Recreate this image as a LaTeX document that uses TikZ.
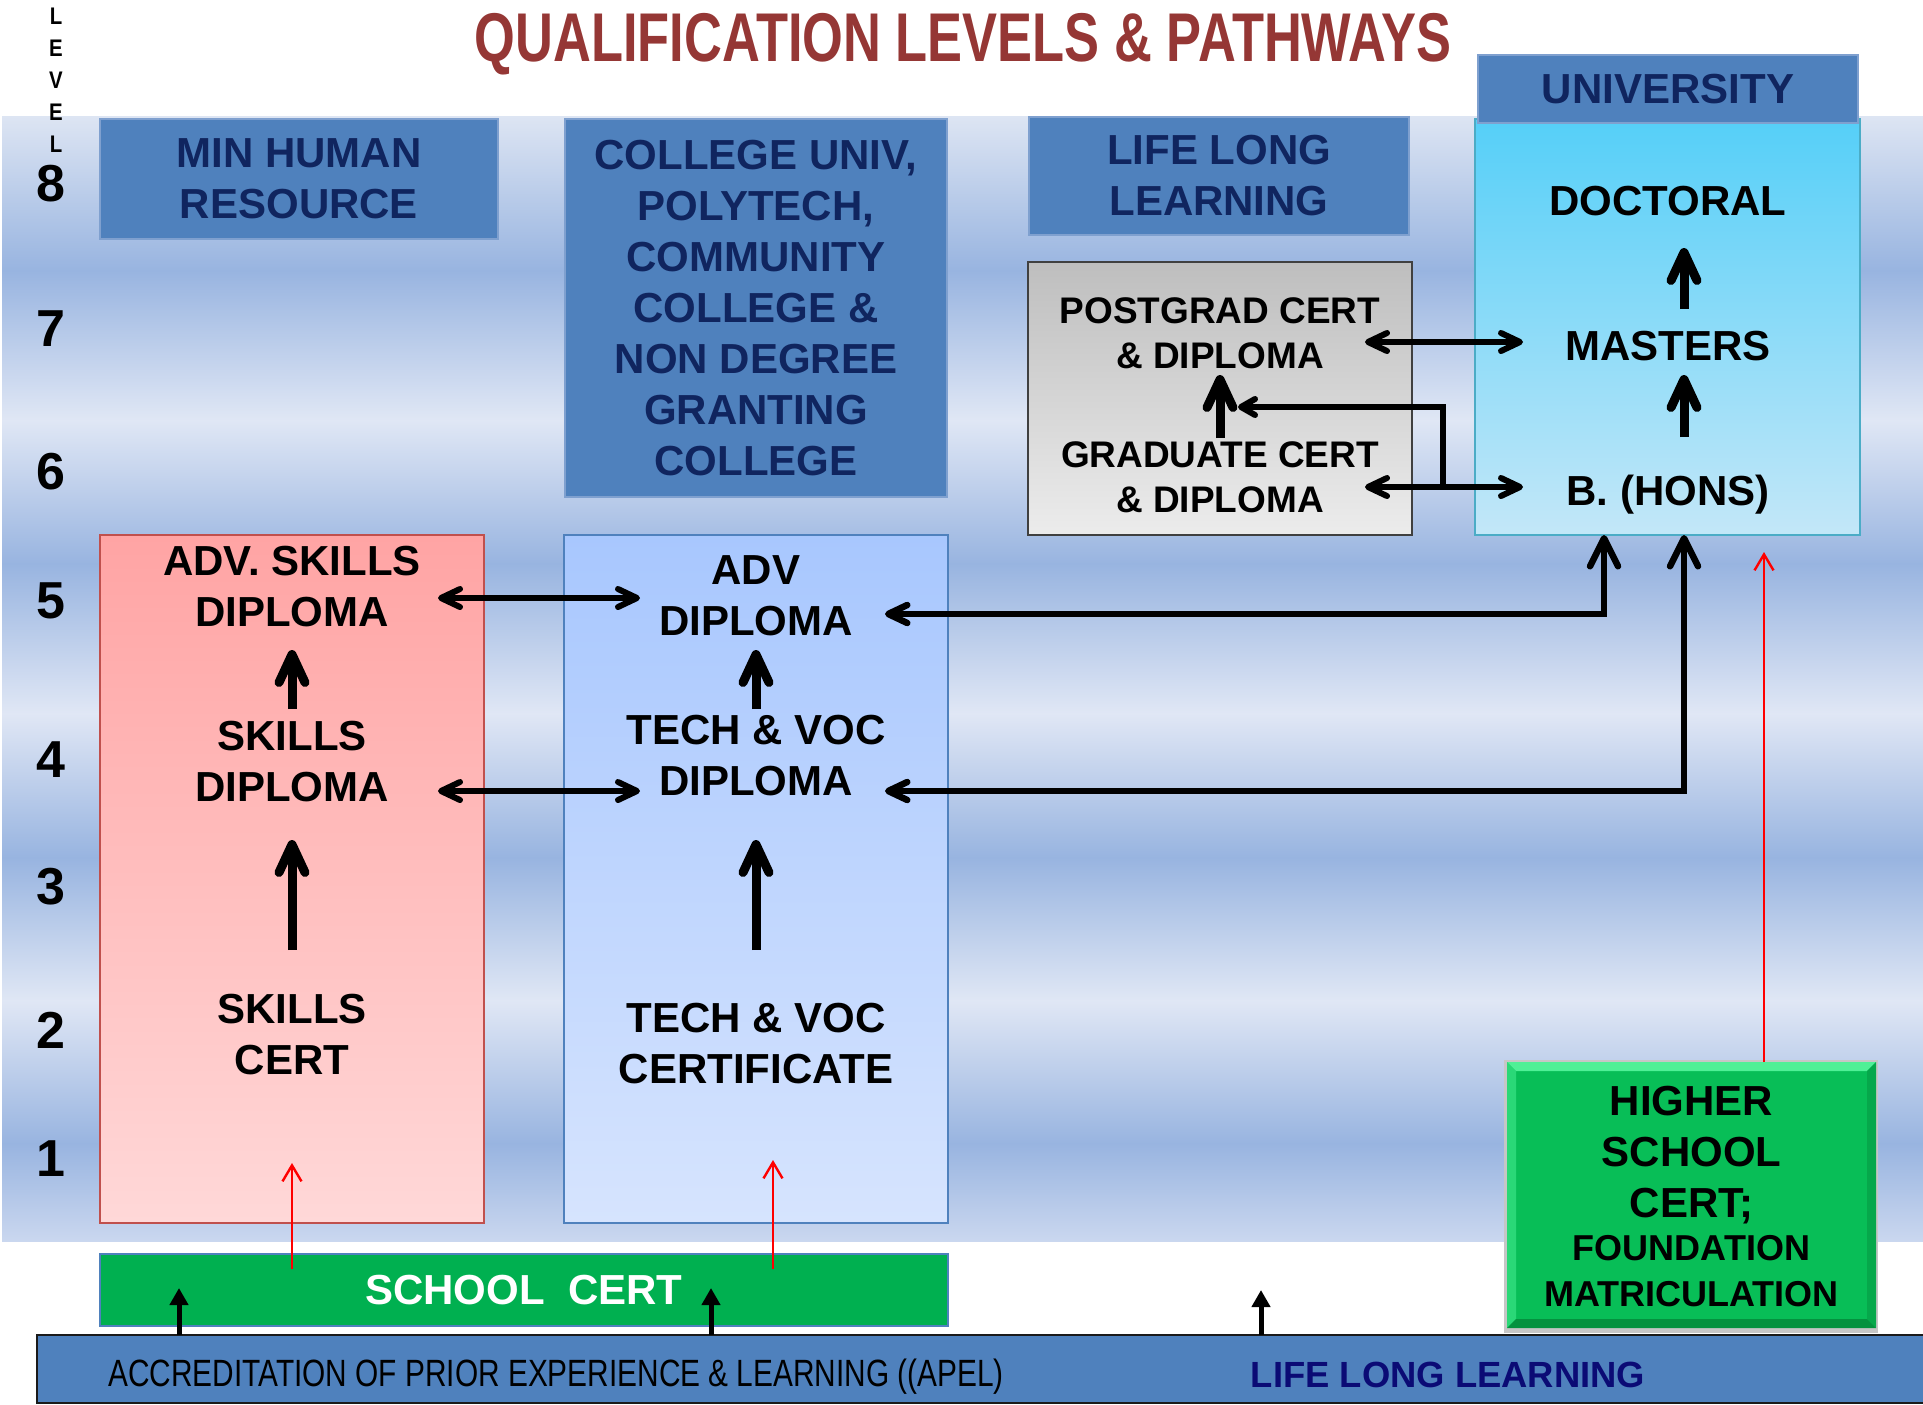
\documentclass[tikz,border=0pt]{standalone}
\usepackage{fontspec}
\setmainfont{Liberation Sans}
\newfontfamily\titlefont[FakeStretch=0.76]{Liberation Sans}
\newfontfamily\narrowfont[FakeStretch=0.785]{Liberation Sans}
\newfontfamily\levelfont[FakeStretch=0.85]{Liberation Sans}
\usetikzlibrary{arrows.meta,calc}
\definecolor{bgT}{HTML}{DDE5F3}
\definecolor{bgL}{HTML}{E0E7F5}
\definecolor{bgD}{HTML}{98B4E0}
\definecolor{bgE}{HTML}{CAD7EF}
\definecolor{hdrfill}{HTML}{4F81BD}
\definecolor{hdrEdge}{HTML}{7FA0CF}
\definecolor{hdrtext}{HTML}{10255F}
\definecolor{titlered}{HTML}{953735}
\definecolor{pinkA}{HTML}{FFA4A4}
\definecolor{pinkB}{HTML}{FFACAC}
\definecolor{pinkC}{HTML}{FFD8D8}
\definecolor{pinkEdge}{HTML}{C0504D}
\definecolor{tvA}{HTML}{A8C7FE}
\definecolor{tvB}{HTML}{B9D0FC}
\definecolor{tvC}{HTML}{D6E4FE}
\definecolor{tvEdge}{HTML}{4F81BD}
\definecolor{uniA}{HTML}{55CFF8}
\definecolor{uniC}{HTML}{C3E7F8}
\definecolor{uniEdge}{HTML}{4BACC6}
\definecolor{greyA}{HTML}{BEBEBE}
\definecolor{greyC}{HTML}{ECECEC}
\definecolor{greyEdge}{HTML}{404040}
\definecolor{schoolgreen}{HTML}{00B050}
\definecolor{hscgreen}{HTML}{08BE57}
\definecolor{hscLight}{HTML}{4FF096}
\definecolor{hscSide}{HTML}{2AD877}
\definecolor{hscDark}{HTML}{04923F}
\definecolor{hscRight}{HTML}{06A84B}
\definecolor{llnavy}{HTML}{0B0B75}
\definecolor{apelEdge}{HTML}{1A1A1A}

\tikzset{
  x=0.5pt, y=-0.5pt,
  panel/.style={inner sep=0pt, outer sep=0pt},
  hdrbox/.style={panel, draw=hdrEdge, line width=0.6pt, fill=hdrfill, text=hdrtext,
    font=\fontsize{21}{25.5}\selectfont\bfseries, align=center},
  lbl/.style={font=\fontsize{21}{25.5}\selectfont\bfseries, align=center, inner sep=0pt, text=black},
  slbl/.style={font=\fontsize{18.5}{22.5}\selectfont\bfseries, align=center, inner sep=0pt, text=black},
  levelnum/.style={font=\fontsize{26}{30}\selectfont\bfseries, inner sep=0pt},
  uparr/.style={line width=4.5pt, -{Straight Barb[length=14pt,width=13pt,round]}},
  dblarr/.style={line width=3pt, {Straight Barb[length=9.5pt,width=9pt,round]}-{Straight Barb[length=9.5pt,width=9pt,round]}},
  brarr/.style={line width=3pt, -{Straight Barb[length=7pt,width=8pt,round]}},
  longarr/.style={line width=3.25pt, {Straight Barb[length=9.5pt,width=9pt,round]}-{Straight Barb[length=14pt,width=14pt,round]}},
  redarr/.style={draw=red, line width=1.2pt, -{Straight Barb[length=8pt,width=9.5pt]}},
  apelarr/.style={line width=2.5pt, -{Triangle[length=8.5pt,width=9pt]}},
}

\begin{document}
\begin{tikzpicture}
\useasboundingbox (0,0) rectangle (1923,1404);

% background stripes
\foreach \ya/\yb/\ca/\cb in {116/270/bgT/bgD, 270/420/bgD/bgL, 420/563/bgL/bgD, 563/713/bgD/bgL,
  713/857/bgL/bgD, 857/1000/bgD/bgL, 1000/1143/bgL/bgD, 1143/1240/bgD/bgE}
  \shade[top color=\ca, bottom color=\cb] (2,\ya) rectangle (1923,\yb+1);

% title and level column
\node[font={\titlefont\bfseries\fontsize{34.5}{40}\selectfont}, text=titlered, anchor=base, inner sep=0pt]
  (title) at (963,61) {QUALIFICATION LEVELS \& PATHWAYS};
\node[font={\levelfont\bfseries\fontsize{12}{16}\selectfont}, align=center, inner sep=0pt]
  (levelword) at (56,80) {L\\E\\V\\E\\L};
\foreach \d/\yy in {8/184, 7/329, 6/472, 5/601, 4/760, 3/887, 2/1030, 1/1159}
  \node[levelnum] (lv\d) at (51,\yy) {\d};

% header boxes
\node[hdrbox, minimum width=199pt, minimum height=60pt] (mhr) at (299,179) {MIN HUMAN\\RESOURCE};
\node[hdrbox, minimum width=191pt, minimum height=189pt] (college) at (756,308)
  {COLLEGE UNIV,\\POLYTECH,\\COMMUNITY\\COLLEGE \&\\NON DEGREE\\GRANTING\\COLLEGE};
\node[hdrbox, minimum width=190pt, minimum height=59pt] (lll) at (1219,176) {LIFE LONG\\LEARNING};

% university
\node[panel, shade, top color=uniA, bottom color=uniC, draw=uniEdge, line width=1pt,
  minimum width=192.5pt, minimum height=208pt] (ub) at (1667.5,327) {};
\node[hdrbox, minimum width=190pt, minimum height=34pt] (uh) at (1668,89) {UNIVERSITY};

% grey box
\node[panel, shade, top color=greyA, bottom color=greyC, draw=greyEdge, line width=1.2pt,
  minimum width=192pt, minimum height=136.5pt] (gb) at (1220,398.5) {};

% skills and tech-voc columns
\node[panel, shade, top color=pinkA, middle color=pinkB, bottom color=pinkC, draw=pinkEdge, line width=0.8pt,
  minimum width=192pt, minimum height=344pt] (sk) at (292,879) {};
\node[panel, shade, top color=tvA, middle color=tvB, bottom color=tvC, draw=tvEdge, line width=0.8pt,
  minimum width=192pt, minimum height=344pt] (tv) at (756,879) {};

% school cert bar
\node[panel, fill=schoolgreen, draw=tvEdge, line width=0.8pt, minimum width=424pt, minimum height=36pt,
  text=white, font=\fontsize{21}{25.5}\selectfont\bfseries] (sc) at (524,1290) {SCHOOL\ \ CERT};

% higher school cert box
\fill[gray!45] (1504,1060) rectangle (1878,1333);
\node[panel, fill=hscgreen, minimum width=184.5pt, minimum height=133pt] (hsc) at (1691.5,1195) {};
\fill[hscLight] (hsc.north west) -- (hsc.north east) -- ($(hsc.north east)+(-9,9)$) -- ($(hsc.north west)+(9,9)$) -- cycle;
\fill[hscSide] (hsc.north west) -- ($(hsc.north west)+(9,9)$) -- ($(hsc.south west)+(9,-9)$) -- (hsc.south west) -- cycle;
\fill[hscRight] (hsc.north east) -- ($(hsc.north east)+(-9,9)$) -- ($(hsc.south east)+(-9,-9)$) -- (hsc.south east) -- cycle;
\fill[hscDark] (hsc.south west) -- ($(hsc.south west)+(9,-9)$) -- ($(hsc.south east)+(-9,-9)$) -- (hsc.south east) -- cycle;
\node[lbl] (hsctop) at (1691.5,1155) {HIGHER\\SCHOOL\\CERT;};
\node[font=\fontsize{18}{22.75}\selectfont\bfseries, align=center, inner sep=0pt] (hscbot) at (1691.5,1271)
  {FOUNDATION\\MATRICULATION};

% APEL bar
\node[panel, fill=hdrfill, draw=apelEdge, line width=1pt, minimum width=944pt, minimum height=34pt] (apel) at (981,1369) {};
\node[font={\narrowfont\fontsize{19}{22}\selectfont}, anchor=base, inner sep=0pt] (apeltxt) at (556,1386)
  {ACCREDITATION OF PRIOR EXPERIENCE \& LEARNING ((APEL)};
\node[font=\fontsize{18.2}{22}\selectfont\bfseries, text=llnavy, anchor=base, inner sep=0pt] (lltxt) at (1448,1387)
  {LIFE LONG LEARNING};

% texts
\node[lbl] (doctoral) at (1668,201) {DOCTORAL};
\node[lbl] (masters) at (1668,346) {MASTERS};
\node[lbl] (bhons) at (1668,495) {B. (HONS)};
\node[slbl] (pg) at (1220,333) {POSTGRAD CERT\\\& DIPLOMA};
\node[slbl] (gc) at (1220,477) {GRADUATE CERT\\\& DIPLOMA};
\node[lbl] (advskills) at (292,587) {ADV. SKILLS\\DIPLOMA};
\node[lbl] (skillsdip) at (292,762) {SKILLS\\DIPLOMA};
\node[lbl] (skillscert) at (292,1035) {SKILLS\\CERT};
\node[lbl] (advdip) at (756,596) {ADV\\DIPLOMA};
\node[lbl] (tvdip) at (756,756) {TECH \& VOC\\DIPLOMA};
\node[lbl] (tvcert) at (756,1044) {TECH \& VOC\\CERTIFICATE};

% vertical progression arrows
\draw[uparr] ($(skillsdip)+(0,-53)$) -- ($(advskills)+(0,63)$);
\draw[uparr] ($(skillscert)+(0,-85)$) -- ($(skillsdip)+(0,78)$);
\draw[uparr] ($(tvdip)+(0,-47)$) -- ($(advdip)+(0,54)$);
\draw[uparr] ($(tvcert)+(0,-94)$) -- ($(tvdip)+(0,84)$);
\draw[uparr] ($(masters)+(16,-37)$) -- ($(doctoral)+(16,47)$);
\draw[uparr] ($(bhons)+(16,-58)$) -- ($(masters)+(16,29)$);
\draw[uparr] ($(gc)+(0,-39)$) -- ($(pg)+(0,42)$);

% horizontal two-way arrows
\draw[dblarr] ($(advskills)+(146,11)$) -- ($(advdip)+(-116,2)$);
\draw[dblarr] ($(skillsdip)+(146,29)$) -- ($(tvdip)+(-116,35)$);
\draw[dblarr] ($(pg)+(145,9)$) -- ($(masters)+(-145,-4)$);
\draw[dblarr] ($(gc)+(145,10)$) -- ($(bhons)+(-145,-8)$);
\draw[brarr] ($(gc)+(223,10)$) |- ($(pg)+(18,74)$);

% long connectors to university
\draw[longarr] ($(advdip)+(129,18)$) -| ($(ub.south)+(-63.5,0)$);
\draw[longarr] ($(tvdip)+(129,35)$) -| ($(ub.south)+(16.5,0)$);

% red entry arrows
\draw[redarr] ($(sc)+(-232,-21)$) -- ($(sk.south)+(0,-60)$);
\draw[redarr] ($(sc)+(249,-21)$) -- ($(tv.south)+(17,-63)$);
\draw[redarr] ($(hsc.north)+(72.5,0)$) -- ($(ub.south)+(96.5,17)$);

% APEL arrows
\coordinate (lltip) at (1261,1290);
\draw[apelarr] ($(apel.north)+(-802,0)$) -- ($(sc)+(-345,-2)$);
\draw[apelarr] ($(apel.north)+(-270,0)$) -- ($(sc)+(187,-2)$);
\draw[apelarr] ($(apel.north)+(280,0)$) -- (lltip);
\end{tikzpicture}
\end{document}
